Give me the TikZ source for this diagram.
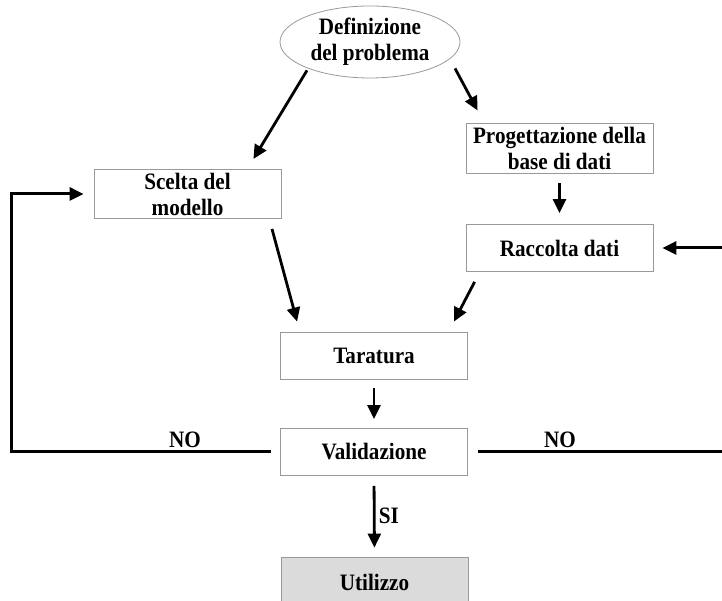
\documentclass[tikz,border=0pt]{standalone}
\usepackage{fontspec}
\setmainfont{Liberation Serif}[FakeStretch=0.9]
\usetikzlibrary{shapes.geometric,arrows.meta}

\begin{document}
\begin{tikzpicture}[x=1pt,y=1pt]
					\useasboundingbox (0,0) rectangle (722,601);
					\tikzstyle{testo}=[font=\fontsize{23.5}{26}\selectfont\bfseries]
					\tikzstyle{fase}=[rectangle,draw=black!40,line width=0.8pt,minimum width=187pt,minimum height=47pt,align=center,testo]
					\tikzstyle{freccia}=[line width=2.8pt,-{Triangle[length=14pt,width=13pt]}]
					\node[ellipse,draw=black!40,line width=0.8pt,minimum width=180pt,minimum height=72pt,inner sep=0pt,align=center,testo](prob) at (370,559) {Definizione\\del problema};
					\node[fase](scelta) at (187.5,407) {Scelta del\\modello};
					\node[fase](prog) at (559.5,452.5) {Progettazione della\\base di dati};
					\node[fase](racc) at (559.5,353) {Raccolta dati};
					\node[fase](tar) at (374,245.5) {Taratura};
					\node[fase](val) at (374,149) {Validazione};
					\node[fase,fill=black!14,minimum height=50pt](uti) at (374.5,19) {Utilizzo};
					\node[testo](noL) at (185,161) {NO};
					\node[testo](noR) at (560,161) {NO};
					% frecce
					\draw[freccia] ([shift={(-63,8)}]prob.south) -- ([shift={(-28,10)}]scelta.north east);
					\draw[freccia] ([shift={(85,10)}]prob.south) -- ([shift={(12,13)}]prog.north west);
					\draw[freccia,shorten <=10pt,shorten >=11pt] (prog.south) -- (racc.north);
					\draw[freccia] ([shift={(84.5,-10)}]scelta.south) -- ([shift={(17,10)}]tar.north west);
					\draw[freccia] ([shift={(9,-10)}]racc.south west) -- ([shift={(-14,10)}]tar.north east);
					\draw[freccia,shorten <=9pt,shorten >=9pt] (tar.south) -- (val.north);
					\draw[freccia,shorten <=10pt,shorten >=9pt] (val.south) -- node[right,testo]{SI} (uti.north);
					% ritorni
					\draw[freccia,line width=3pt,shorten <=9pt,shorten >=10pt] (val.west) -- ++(-269,0) |- (scelta.west);
					\draw[freccia,line width=3pt,shorten <=10pt,shorten >=9pt] (val.east) -- ++(257,0) |- (racc.east);
				\end{tikzpicture}
\end{document}
